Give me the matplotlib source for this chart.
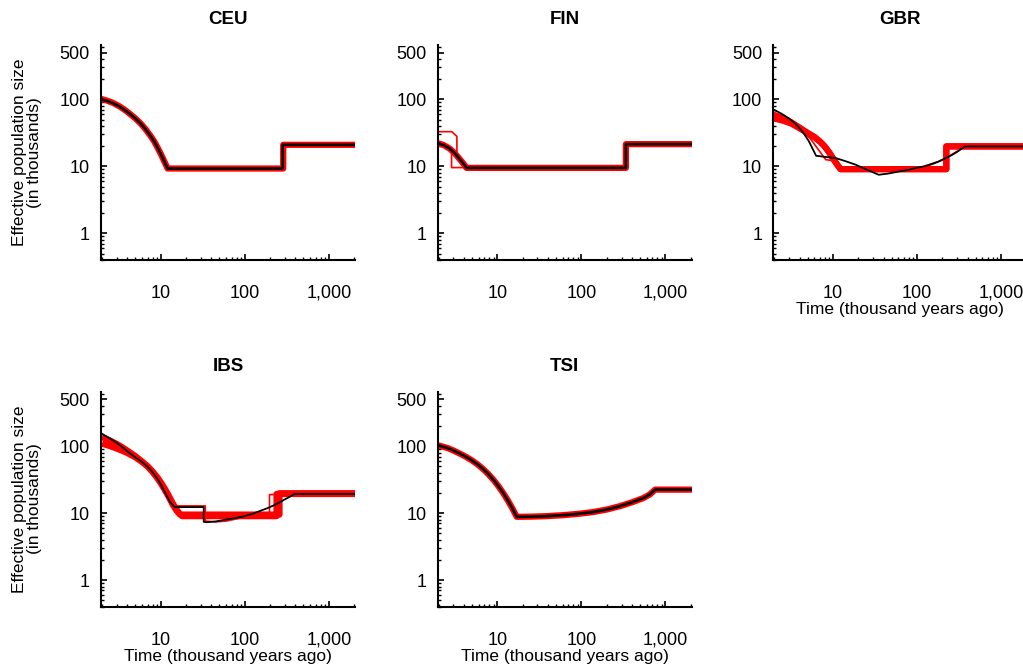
import matplotlib
matplotlib.use("Agg")
import matplotlib.pyplot as plt
from matplotlib.ticker import FixedLocator, LogLocator, NullFormatter

plt.rcParams["font.family"] = ["Liberation Sans", "DejaVu Sans"]

# ---- data (time in kya, Ne in thousands) ----
ceu_t = [1.95, 2.3, 2.7, 3.2, 3.7, 4.3, 5, 5.8, 6.6, 7.5, 8.4, 9.3, 10.2, 11.1, 12.1,
         283, 283, 2100]
ceu_n = [100, 95, 88, 79, 70, 61, 52, 43.5, 36, 29, 23.5, 18.5, 14.7, 11.7, 9.3,
         9.3, 21, 21]
ceu_red_t = [1.95, 2.3, 2.7, 3.2, 3.7, 4.3, 5, 5.8, 6.6, 7.5, 8.4, 9.3, 10.2, 11.1, 12.1,
             287, 287, 2100]
ceu_red_n = [102, 96, 89, 79.5, 70.5, 61, 52, 43.5, 36, 29, 23.5, 18.5, 14.7, 11.7, 9.3,
             9.3, 21, 21]
ceu_thin_t = [12.1, 292, 292, 2100]
ceu_thin_n = [9.3, 9.3, 21, 21]

fin_t = [1.95, 2.3, 2.7, 3.1, 3.5, 3.9, 4.3, 338, 338, 2100]
fin_n = [22.3, 20.8, 18.5, 15.8, 13.2, 11.2, 9.5, 9.5, 21.5, 21.5]
fin_thin1_t = [1.95, 2.87, 3.3, 3.3, 4.5, 340, 340, 2100]
fin_thin1_n = [33, 33, 28, 15, 9.6, 9.6, 21.5, 21.5]
fin_thin2_t = [1.95, 2.3, 2.6, 2.85, 2.85, 4.5]
fin_thin2_n = [22, 20.5, 18.8, 17.5, 9.6, 9.6]

gbr_t = [1.9, 2.4, 3.0, 3.5, 3.94, 4.5, 5.18, 5.7, 6.3, 8, 10.8, 14, 18.6, 25, 35,
         45, 61, 80, 96, 120, 139, 180, 220, 260, 300, 372, 2100]
gbr_n = [72, 62, 52, 44.5, 38, 31, 23.6, 18.5, 14.4, 13.9, 13.3, 12, 10.6, 9, 7.5,
         7.8, 8.4, 8.9, 9.45, 10, 10.6, 11.8, 13.3, 14.8, 16.5, 19.9, 19.9]
gbr_red1_t = [1.9, 2.5, 3.2, 3.94, 5, 6, 7, 8, 9, 10, 11, 12.3, 223, 223, 2100]
gbr_red1_n = [52.7, 48.5, 43.5, 37.5, 31.5, 27.5, 23.5, 19.8, 16.2, 13.2, 11.0, 9.1,
              9.1, 19.9, 19.9]
gbr_red2_t = [1.9, 2.5, 3.2, 3.94, 5, 6, 7, 8, 9, 10, 11, 12.3, 223, 223, 2100]
gbr_red2_n = [60, 53, 45.5, 38.5, 31.5, 27.5, 23.5, 19.8, 16.2, 13.2, 11.0, 9.1,
              9.1, 19.9, 19.9]
gbr_thin_t = [1.9, 3.0, 3.9, 5.5, 8.2, 11, 13, 30, 100, 160, 225, 365, 2100]
gbr_thin_n = [62, 50, 40, 25, 12.6, 12, 9.0, 8.5, 9, 11, 13.5, 19.5, 19.5]

ibs_t = [2, 2.5, 3, 3.5, 4, 5, 6, 7, 8, 9, 10, 11, 12, 13, 14.6, 32.5, 32.5,
         35, 45, 60, 80, 100, 125, 150, 185, 220, 260, 300, 345, 390, 2100]
ibs_n = [153, 130, 112, 97, 84, 68, 58, 49, 41, 33.5, 27, 21.5, 17.5, 14.5, 12.3, 12.3, 7.4,
         7.3, 7.5, 8, 8.5, 9, 9.8, 10.7, 11.8, 13, 14.5, 16, 17.6, 19.3, 19.3]
ibs_red1_t = [2, 2.5, 3, 3.5, 4, 5, 6, 7, 8, 9, 10, 11, 12, 13, 14, 15.5, 17, 18,
              239, 239, 2100]
ibs_red1_n = [109, 100, 92, 85, 79, 68, 58, 50, 42, 35, 29, 24, 20, 16.5, 13.8, 11.2, 9.6, 9.0,
              9.0, 19.3, 19.3]
ibs_red2_t = [2, 2.5, 3, 3.5, 4, 5, 6, 7, 8, 9, 10, 11, 12, 13, 14, 15.5, 17,
              259, 259, 2100]
ibs_red2_n = [137, 121, 108, 96, 86, 71, 59, 49.5, 41, 34, 28, 23, 19, 15.8, 13.2, 10.8, 9.5,
              9.5, 19.8, 19.8]
ibs_thin_t = [2, 3, 4, 6, 8, 10, 12, 13.5, 15, 34, 34, 45, 60, 80, 100, 150, 197, 197, 2100]
ibs_thin_n = [140, 110, 84, 57, 40, 27, 18, 14.5, 12.8, 12.8, 7.6, 7.4, 7.6, 8.2, 8.7, 9.2,
              9.2, 18.9, 18.9]

tsi_t = [1.9, 2.2, 2.6, 3.0, 3.6, 4.2, 5, 5.8, 6.7, 7.7, 9, 10.3, 11.7, 13.3, 15, 17,
         25, 38, 60, 96, 140, 200, 288, 400, 547, 650, 753, 2100]
tsi_n = [104, 99, 93, 86, 77, 69.7, 61, 53.5, 46, 38.9, 31.3, 25.2, 20, 15.5, 11.9, 8.8,
         8.85, 9.0, 9.3, 9.8, 10.4, 11.3, 12.7, 14.5, 16.8, 19, 22.4, 22.4]

y_ticks = [1, 10, 100, 500]
y_ticklabels = ["1", "10", "100", "500"]
x_ticks = [10, 100, 1000]
x_ticklabels = ["10", "100", "1,000"]

W, H = 1023, 665
fig = plt.figure(figsize=(W / 100, H / 100), dpi=100)


def make_ax(left_px, bottom_px, title):
    ax = fig.add_axes([left_px / W, (H - bottom_px) / H, 254 / W, 215 / H])
    ax.set_xscale("log")
    ax.set_yscale("log")
    ax.set_xlim(1.95, 2050)
    ax.set_ylim(0.4, 650)
    for s in ("top", "right"):
        ax.spines[s].set_visible(False)
    for s in ("left", "bottom"):
        ax.spines[s].set_linewidth(1.5)
    ax.xaxis.set_major_locator(FixedLocator(x_ticks))
    ax.set_xticklabels(x_ticklabels)
    ax.yaxis.set_major_locator(FixedLocator(y_ticks))
    ax.set_yticklabels(y_ticklabels)
    ax.xaxis.set_minor_locator(LogLocator(base=10, subs=range(2, 10), numticks=20))
    ax.yaxis.set_minor_locator(LogLocator(base=10, subs=range(2, 10), numticks=20))
    ax.xaxis.set_minor_formatter(NullFormatter())
    ax.yaxis.set_minor_formatter(NullFormatter())
    ax.tick_params(axis="x", which="major", direction="in", length=4, width=1.2,
                   pad=18, labelsize=13)
    ax.tick_params(axis="y", which="major", direction="in", length=4, width=1.2,
                   pad=8, labelsize=13)
    ax.tick_params(which="minor", direction="in", length=2.5, width=1)
    ax.set_title(title, fontsize=13.5, fontweight="bold", pad=15)
    return ax


ax_ceu = make_ax(101, 260, "CEU")
ax_fin = make_ax(437.7, 260, "FIN")
ax_gbr = make_ax(773.3, 260, "GBR")
ax_ibs = make_ax(101, 606.7, "IBS")
ax_tsi = make_ax(437.7, 606.7, "TSI")

RED = "#ff0000"
thick = dict(color=RED, lw=4.5, solid_joinstyle="round", solid_capstyle="butt")

ax_ceu.plot(ceu_red_t, ceu_red_n, **thick)
ax_ceu.plot(ceu_thin_t, ceu_thin_n, color=RED, lw=1.3)
ax_ceu.plot(ceu_t, ceu_n, color="black", lw=1.9)

ax_fin.plot(fin_t, fin_n, **thick)
ax_fin.plot(fin_thin1_t, fin_thin1_n, color=RED, lw=1.2)
ax_fin.plot(fin_thin2_t, fin_thin2_n, color=RED, lw=1.2)
ax_fin.plot(fin_t, fin_n, color="black", lw=1.9)

ax_gbr.plot(gbr_red1_t, gbr_red1_n, **thick)
ax_gbr.plot(gbr_red2_t, gbr_red2_n, **thick)
ax_gbr.plot(gbr_thin_t, gbr_thin_n, color=RED, lw=1.2)
ax_gbr.plot(gbr_t, gbr_n, color="black", lw=1.3)

ax_ibs.plot(ibs_red1_t, ibs_red1_n, **thick)
ax_ibs.plot(ibs_red2_t, ibs_red2_n, **thick)
ax_ibs.plot(ibs_thin_t, ibs_thin_n, color=RED, lw=1.2)
ax_ibs.plot(ibs_t, ibs_n, color="black", lw=1.3)

ax_tsi.plot(tsi_t, tsi_n, **thick)
ax_tsi.plot(tsi_t, tsi_n, color="black", lw=1.9)

for ax in (ax_gbr, ax_ibs, ax_tsi):
    ax.set_xlabel("Time (thousand years ago)", fontsize=12.5, labelpad=0)

for cy in (152.5, 499):
    fig.text(27 / W, 1 - cy / H, "Effective population size\n(in thousands)",
             rotation=90, ha="center", va="center", multialignment="center",
             fontsize=12.5, linespacing=1.05)

fig.savefig("out.png", dpi=100)
